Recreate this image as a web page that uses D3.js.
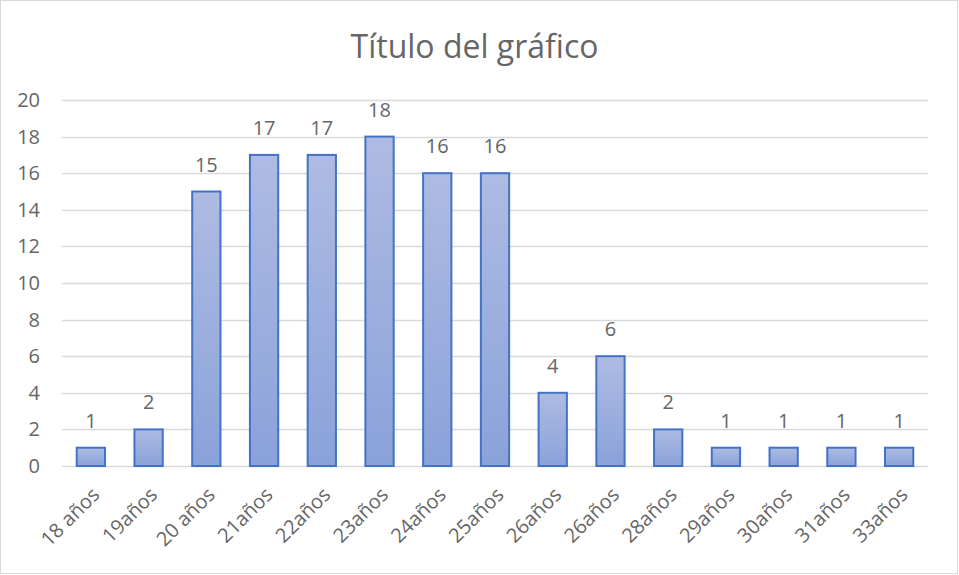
<!DOCTYPE html>
<html>
<head>
  <meta charset="utf-8">
  <script src="https://d3js.org/d3.v7.min.js"></script>
  <style>
    body { margin: 0; background: #fff; }
    svg { display: block; font-family: "Open Sans", Lato, sans-serif; }
  </style>
</head>
<body>
  <svg width="959" height="575"></svg>
  <script>
    const categories = ["18 años", "19años", "20 años", "21años", "22años", "23años", "24años", "25años",
      "26años", "26años", "28años", "29años", "30años", "31años", "33años"];
    const values = [1, 2, 15, 17, 17, 18, 16, 16, 4, 6, 2, 1, 1, 1, 1];
    const yTicks = [0, 2, 4, 6, 8, 10, 12, 14, 16, 18, 20];
    const title = "Título del gráfico";

    const svg = d3.select("svg");
    const width = +svg.attr("width");
    const height = +svg.attr("height");
    const margin = { top: 100, right: 31, bottom: 109, left: 62 };
    const textColor = "#666";

    // marco del gráfico
    svg.append("rect")
      .attr("x", 0.5).attr("y", 0.5)
      .attr("width", width - 2).attr("height", height - 2)
      .attr("fill", "#fff").attr("stroke", "#d9d9d9");

    const defs = svg.append("defs");
    const grad = defs.append("linearGradient")
      .attr("id", "barGrad").attr("x1", 0).attr("y1", 0).attr("x2", 0).attr("y2", 1);
    grad.append("stop").attr("offset", "0%").attr("stop-color", "#aebbe3");
    grad.append("stop").attr("offset", "100%").attr("stop-color", "#8aa2da");

    const x = d3.scaleBand()
      .domain(d3.range(categories.length))
      .range([margin.left, width - margin.right])
      .paddingInner(0.51).paddingOuter(0.255);

    const y = d3.scaleLinear()
      .domain([0, 20])
      .range([height - margin.bottom, margin.top]);

    // líneas de cuadrícula
    svg.append("g")
      .selectAll("line")
      .data(yTicks)
      .join("line")
      .attr("x1", margin.left).attr("x2", width - margin.right)
      .attr("y1", d => Math.round(y(d)) + 0.5).attr("y2", d => Math.round(y(d)) + 0.5)
      .attr("stroke", "#d9d9d9").attr("stroke-width", 1.5);

    // etiquetas eje Y
    svg.append("g")
      .selectAll("text")
      .data(yTicks)
      .join("text")
      .attr("x", 40)
      .attr("y", d => y(d))
      .attr("dy", "0.35em")
      .attr("text-anchor", "end")
      .attr("fill", textColor)
      .attr("font-size", 20)
      .text(d => d);

    // barras
    svg.append("g")
      .selectAll("rect")
      .data(values)
      .join("rect")
      .attr("x", (d, i) => x(i))
      .attr("y", d => y(d))
      .attr("width", x.bandwidth())
      .attr("height", d => y(0) - y(d))
      .attr("fill", "url(#barGrad)")
      .attr("stroke", "#4472c4")
      .attr("stroke-width", 2);

    // etiquetas de datos
    svg.append("g")
      .selectAll("text")
      .data(values)
      .join("text")
      .attr("x", (d, i) => x(i) + x.bandwidth() / 2)
      .attr("y", d => y(d) - 20)
      .attr("text-anchor", "middle")
      .attr("fill", textColor)
      .attr("font-size", 20)
      .text(d => d);

    // etiquetas eje X
    svg.append("g")
      .selectAll("text")
      .data(categories)
      .join("text")
      .attr("transform", (d, i) => `translate(${x(i) + x.bandwidth() / 2 + 5},${y(0) + 25}) rotate(-45)`)
      .attr("text-anchor", "end")
      .attr("dy", "0.35em")
      .attr("fill", textColor)
      .attr("font-size", 20)
      .text(d => d);

    // título
    svg.append("text")
      .attr("x", width / 2 - 5)
      .attr("y", 58)
      .attr("text-anchor", "middle")
      .attr("fill", textColor)
      .attr("font-size", 32)
      .text(title);
  </script>
</body>
</html>
